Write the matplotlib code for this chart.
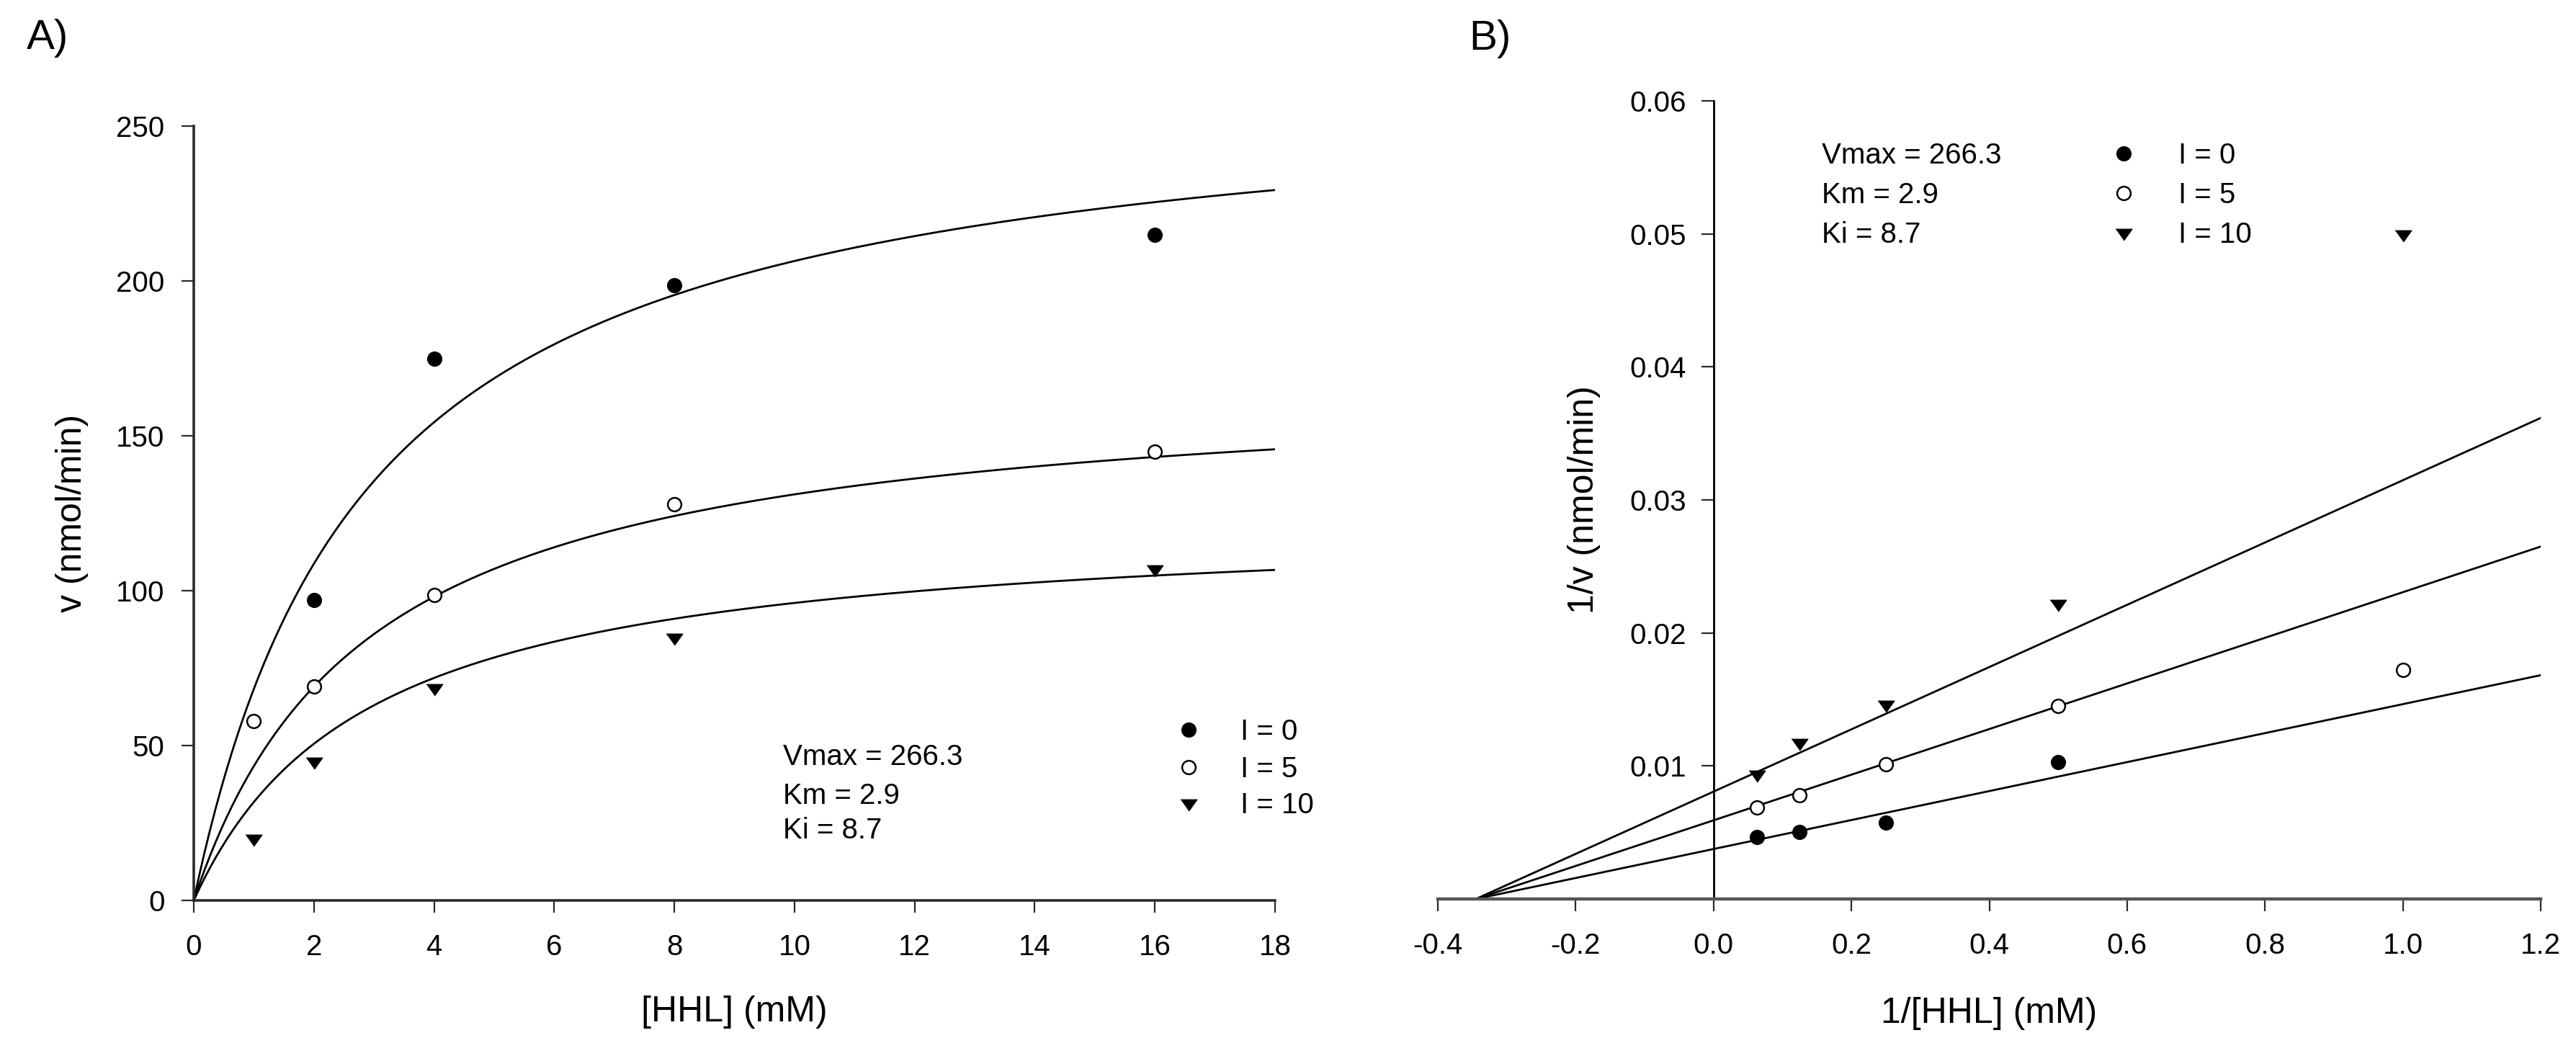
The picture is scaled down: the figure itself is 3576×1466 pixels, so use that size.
import numpy as np
import matplotlib
matplotlib.use("Agg")
import matplotlib.pyplot as plt

plt.rcParams['font.family'] = ['Liberation Sans', 'DejaVu Sans']

# ---- data ----
S_I0 = [2, 4, 8, 16]
v_I0 = [97, 175, 198.5, 215]
S_I5 = [1, 2, 4, 8, 16]
v_I5 = [58, 69, 98.5, 128, 145]
S_I10 = [1, 2, 4, 8, 16]
v_I10 = [20, 45, 68.5, 85, 107]

inhibitor = [0, 5, 10]
legend_labels = ['I = 0', 'I = 5', 'I = 10']

Vmax = 266.3
Km = 2.9
Ki = 8.7
param_lines = ['Vmax = 266.3', 'Km = 2.9', 'Ki = 8.7']

xticksA = [0, 2, 4, 6, 8, 10, 12, 14, 16, 18]
yticksA = [0, 50, 100, 150, 200, 250]
xticksB = [-0.4, -0.2, 0.0, 0.2, 0.4, 0.6, 0.8, 1.0, 1.2]
yticksB = [0.01, 0.02, 0.03, 0.04, 0.05, 0.06]

# ---- styles ----
tri = [(-1, 0.47), (1, 0.47), (0, -0.93)]
styles = [
    dict(marker='o', ms=14, mfc='black', mec='black', mew=1.2),
    dict(marker='o', ms=13.5, mfc='white', mec='black', mew=1.8),
    dict(marker=tri, ms=16.5, mfc='black', mec='black', mew=0.8),
]
series = [(S_I0, v_I0), (S_I5, v_I5), (S_I10, v_I10)]

W, H = 3576, 1466
fig = plt.figure(figsize=(W / 100, H / 100), dpi=100)

def px_axes(l, r, t, b):
    return fig.add_axes([l / W, 1 - b / H, (r - l) / W, (b - t) / H])

TICK_FS = 29
LABEL_FS = 36
axis_col = '#2a2a2a'

# ---------------- Panel A ----------------
axA = px_axes(269, 1770, 175, 1250)
axA.set_xlim(0, 18)
axA.set_ylim(0, 250)
for s in ['top', 'right']:
    axA.spines[s].set_visible(False)
for s in ['left', 'bottom']:
    axA.spines[s].set_linewidth(2.6)
    axA.spines[s].set_color(axis_col)
axA.set_xticks(xticksA)
axA.set_yticks(yticksA)
axA.tick_params(axis='both', direction='out', length=12, width=1.6, color=axis_col,
                labelsize=TICK_FS)
axA.tick_params(axis='y', pad=17)
axA.tick_params(axis='x', pad=21)

Sfit = np.linspace(0, 18, 400)
for I in inhibitor:
    vfit = Vmax / (1 + I / Ki) * Sfit / (Km + Sfit)
    axA.plot(Sfit, vfit, color='black', lw=2.0, zorder=2)
for (sx, vy), st in zip(series, styles):
    axA.plot(sx, vy, ls='none', zorder=3, clip_on=False, **st)

axA.set_xlabel('[HHL] (mM)', fontsize=LABEL_FS)
axA.set_ylabel('v (nmol/min)', fontsize=LABEL_FS)
axA.xaxis.set_label_coords(0.5, -0.1228)
axA.yaxis.set_label_coords(-0.0973, 0.5)

for txt, y in zip(param_lines, [43.7, 31.2, 20.0]):
    axA.text(9.81, y, txt, fontsize=TICK_FS, va='baseline', ha='left')
for lab, st, ym, yt in zip(legend_labels, styles, [55.1, 43.0, 31.4], [51.9, 39.8, 28.1]):
    axA.plot([16.56], [ym], ls='none', clip_on=False, **st)
    axA.text(17.42, yt, lab, fontsize=TICK_FS, va='baseline', ha='left')

# ---------------- Panel B ----------------
axB = px_axes(1996, 3527, 140, 1248)
axB.set_xlim(-0.4, 1.2)
axB.set_ylim(0, 0.06)
for s in ['top', 'right']:
    axB.spines[s].set_visible(False)
axB.spines['left'].set_position(('data', 0))
axB.spines['left'].set_linewidth(2.0)
axB.spines['left'].set_color('black')
axB.spines['bottom'].set_linewidth(3.2)
axB.spines['bottom'].set_color('#555555')
axB.set_xticks(xticksB)
axB.set_xticklabels([f'{t:.1f}' for t in xticksB])
axB.set_yticks(yticksB)
axB.set_yticklabels([f'{t:.2f}' for t in yticksB])
axB.tick_params(axis='both', direction='out', length=12, width=1.6, color=axis_col,
                labelsize=TICK_FS)
axB.tick_params(axis='y', pad=15)
axB.tick_params(axis='x', pad=21)

xfit = np.linspace(-1 / Km, 1.2, 200)
for I in inhibitor:
    yfit = (1 + I / Ki) / Vmax * (1 + Km * xfit)
    axB.plot(xfit, yfit, color='black', lw=2.0, zorder=2)
for (sx, vy), st in zip(series, styles):
    axB.plot(1 / np.array(sx, float), 1 / np.array(vy, float), ls='none', zorder=3,
             clip_on=False, **st)

axB.set_xlabel('1/[HHL] (mM)', fontsize=LABEL_FS)
axB.set_ylabel('1/v (nmol/min)', fontsize=LABEL_FS)
axB.xaxis.set_label_coords(0.5, -0.1227)
axB.yaxis.set_label_coords(0.1476, 0.5)

for txt, y in zip(param_lines, [0.05529, 0.05231, 0.04933]):
    axB.text(0.157, y, txt, fontsize=TICK_FS, va='baseline', ha='left')
for lab, st, ym, yt in zip(legend_labels, styles, [0.05605, 0.05307, 0.05009],
                           [0.05529, 0.05231, 0.04933]):
    axB.plot([0.595], [ym], ls='none', clip_on=False, **st)
    axB.text(0.674, yt, lab, fontsize=TICK_FS, va='baseline', ha='left')

fig.text(37 / W, 1 - 68 / H, 'A)', fontsize=42, va='baseline', ha='left')
fig.text(2039 / W, 1 - 69 / H, 'B)', fontsize=42, va='baseline', ha='left')

fig.savefig('out.png', dpi=100, facecolor='white')
